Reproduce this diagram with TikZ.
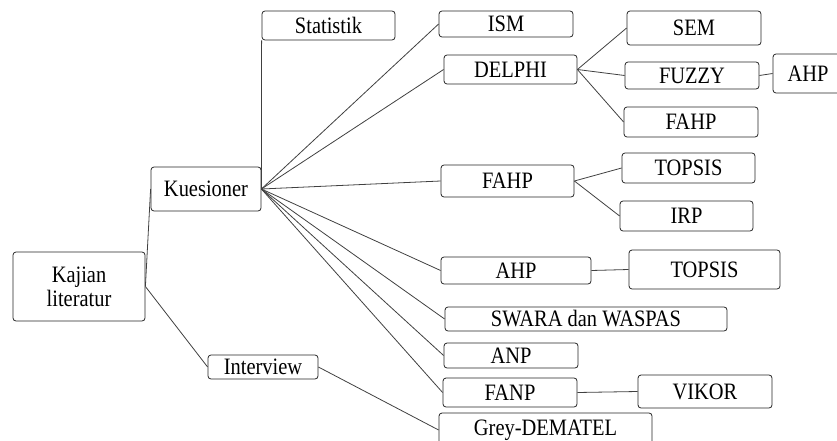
\documentclass[tikz,border=0pt]{standalone}
\usepackage{fontspec}
\setmainfont[FakeStretch=0.87]{Liberation Serif}
\begin{document}
\begin{tikzpicture}[x=1pt,y=-1pt,
    every node/.style={draw=black!85,line width=0.8pt,rounded corners=3pt,inner sep=0pt,
        font=\fontsize{23.5}{24}\selectfont,text=black},
    link/.style={draw=black!75,line width=0.8pt}]
    \useasboundingbox (0,0) rectangle (837,441);
    \node[minimum width=132pt,minimum height=69pt,align=center] (kajian) at (79,286.5) {Kajian\\literatur};
    \node[minimum width=110pt,minimum height=44pt] (kues) at (206,189) {Kuesioner};
    \node[minimum width=110pt,minimum height=24pt] (interview) at (263,367) {Interview};
    \node[minimum width=133pt,minimum height=29pt] (stat) at (328.5,25.5) {Statistik};
    % second level
    \node[minimum width=134pt,minimum height=26pt] (ism) at (506,24) {ISM};
    \node[minimum width=133pt,minimum height=29pt] (delphi) at (510.5,69.5) {DELPHI};
    \node[minimum width=133pt,minimum height=32pt] (fahp) at (507.5,181) {FAHP};
    \node[minimum width=150pt,minimum height=27pt] (ahp) at (516,270.5) {AHP};
    \node[minimum width=282pt,minimum height=24pt] (swara) at (586,319) {SWARA dan WASPAS};
    \node[minimum width=134pt,minimum height=25pt] (anp) at (511,355.5) {ANP};
    \node[minimum width=134pt,minimum height=29pt] (fanp) at (510,392.5) {FANP};
    \node[minimum width=213pt,minimum height=34pt] (grey) at (545.5,430) {Grey-DEMATEL};
    % third level
    \node[minimum width=134pt,minimum height=34pt] (sem) at (694,28) {SEM};
    \node[minimum width=134pt,minimum height=27pt] (fuzzy) at (692,75.5) {FUZZY};
    \node[minimum width=134pt,minimum height=30pt] (fahpd) at (691,122) {FAHP};
    \node[minimum width=70pt,minimum height=39pt] (ahpf) at (808,73.5) {AHP};
    \node[minimum width=133pt,minimum height=30pt] (topsis) at (688.5,168) {TOPSIS};
    \node[minimum width=133pt,minimum height=30pt] (irp) at (686.5,216) {IRP};
    \node[minimum width=151pt,minimum height=39pt] (topsisb) at (704.5,269.5) {TOPSIS};
    \node[minimum width=134pt,minimum height=33pt] (vikor) at (705,391.5) {VIKOR};
    % connectors
    \path[link] (kajian.east) -- (kues.west);
    \path[link] (kajian.east) -- (interview.west);
    \path[link] (kues.east) -- (stat.south west);
    \foreach \n in {ism,delphi,fahp,ahp,swara,anp,fanp}
        \path[link] (kues.east) -- (\n.west);
    \path[link] (interview.east) -- (grey.west);
    \foreach \n in {sem,fuzzy,fahpd}
        \path[link] (delphi.east) -- (\n.west);
    \path[link] (fuzzy.east) -- (ahpf.west);
    \path[link] (fahp.east) -- (topsis.west);
    \path[link] (fahp.east) -- (irp.west);
    \path[link] (ahp.east) -- (topsisb.west);
    \path[link] (fanp.east) -- (vikor.west);
\end{tikzpicture}
\end{document}
